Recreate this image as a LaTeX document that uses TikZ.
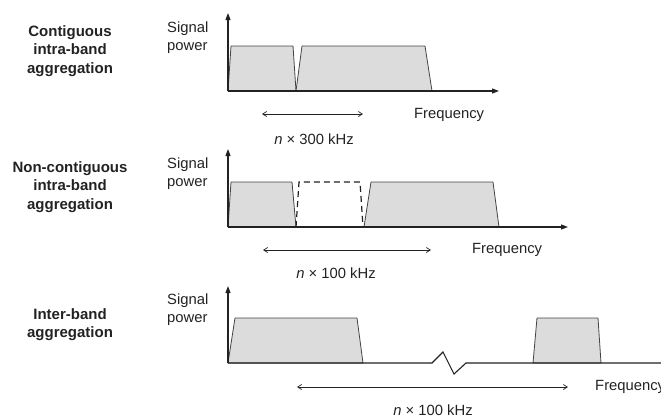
\documentclass[tikz,border=0pt]{standalone}
\usepackage{fontspec}
\setmainfont{Liberation Sans}
\usetikzlibrary{arrows.meta}
\definecolor{ink}{HTML}{222222}
\definecolor{band}{HTML}{DCDCDC}
\begin{document}
\begin{tikzpicture}[x=1pt,y=-1pt,
  axisline/.style={draw=ink, line width=1.1pt},
  axis/.style={axisline, -{Triangle[length=7pt,width=5pt]}},
  bandshape/.style={fill=band, draw=ink!85, line width=0.8pt, line join=round},
  gapshape/.style={draw=ink, dash pattern=on 6pt off 4pt, line width=1.2pt},
  span/.style={draw=ink, line width=0.7pt, {Straight Barb[length=4pt,width=5pt]}-{Straight Barb[length=4pt,width=5pt]}},
  lbl/.style={font=\fontsize{14.8}{18}\selectfont, text=ink, inner sep=0pt},
  ylbl/.style={lbl, align=left, anchor=west},
  title/.style={font=\fontsize{15}{18.5}\selectfont\bfseries, text=ink, align=center, inner sep=0pt}]
\useasboundingbox (0,0) rectangle (661,416);
\clip (0,0) rectangle (661,416);

% ---------- Panel 1: contiguous ----------
\coordinate (o1) at (228,91);
\coordinate (t1) at (228,13);
\coordinate (e1) at (499,91);
\path[bandshape] (228,91) -- (231,46) -- (293,46) -- (296,91) -- cycle;
\path[bandshape] (296,91) -- (302,46) -- (425,46) -- (432,91) -- cycle;
\draw[axis] (o1) -- (t1);
\draw[axis] (o1) -- (e1);
\coordinate (s1a) at (262,114);
\coordinate (s1b) at (363,114);
\draw[span] (s1a) -- (s1b);
\node[lbl, anchor=west] (f1) at (414,115) {Frequency};
\node[lbl] (n1) at (314,139) {\textit{n} × 300 kHz};
\node[ylbl] (sp1) at (167,37.5) {Signal\\power};
\node[title] (c1) at (70,51) {Contiguous\\intra-band\\aggregation};

% ---------- Panel 2: non-contiguous ----------
\coordinate (o2) at (228,227);
\coordinate (t2) at (228,149);
\coordinate (e2) at (568,227);
\path[bandshape] (228,227) -- (231,182) -- (292,182) -- (296,227) -- cycle;
\path[bandshape] (364,227) -- (371,182) -- (493,182) -- (499,227) -- cycle;
\draw[axis] (o2) -- (t2);
\draw[axis] (o2) -- (e2);
\draw[gapshape] (296,227) -- (299,182) -- (360,182) -- (363,227) -- cycle;
\coordinate (s2a) at (263,250);
\coordinate (s2b) at (431,250);
\draw[span] (s2a) -- (s2b);
\node[lbl, anchor=west] (f2) at (472,250) {Frequency};
\node[lbl] (n2) at (336,273) {\textit{n} × 100 kHz};
\node[ylbl] (sp2) at (167,174) {Signal\\power};
\node[title] (c2) at (70,187) {Non-contiguous\\intra-band\\aggregation};

% ---------- Panel 3: inter-band ----------
\coordinate (o3) at (228,363);
\coordinate (t3) at (228,286);
\coordinate (z1) at (432,363);
\coordinate (z2) at (443,352);
\coordinate (z3) at (454,374);
\coordinate (z4) at (466,363);
\coordinate (e3) at (680,363);
\path[bandshape] (228,363) -- (235,318) -- (357,318) -- (363,363) -- cycle;
\path[bandshape] (533,363) -- (537,318) -- (598,318) -- (601,363) -- cycle;
\draw[axis] (o3) -- (t3);
\draw[axisline, line join=miter] (o3) -- (z1) -- (z2) -- (z3) -- (z4) -- (e3);
\coordinate (s3a) at (297,387);
\coordinate (s3b) at (568,387);
\draw[span] (s3a) -- (s3b);
\node[lbl, anchor=west] (f3) at (595,387) {Frequency};
\node[lbl] (n3) at (433,410.5) {\textit{n} × 100 kHz};
\node[ylbl] (sp3) at (167,310) {Signal\\power};
\node[title] (c3) at (70,324.5) {Inter-band\\aggregation};
\end{tikzpicture}
\end{document}
